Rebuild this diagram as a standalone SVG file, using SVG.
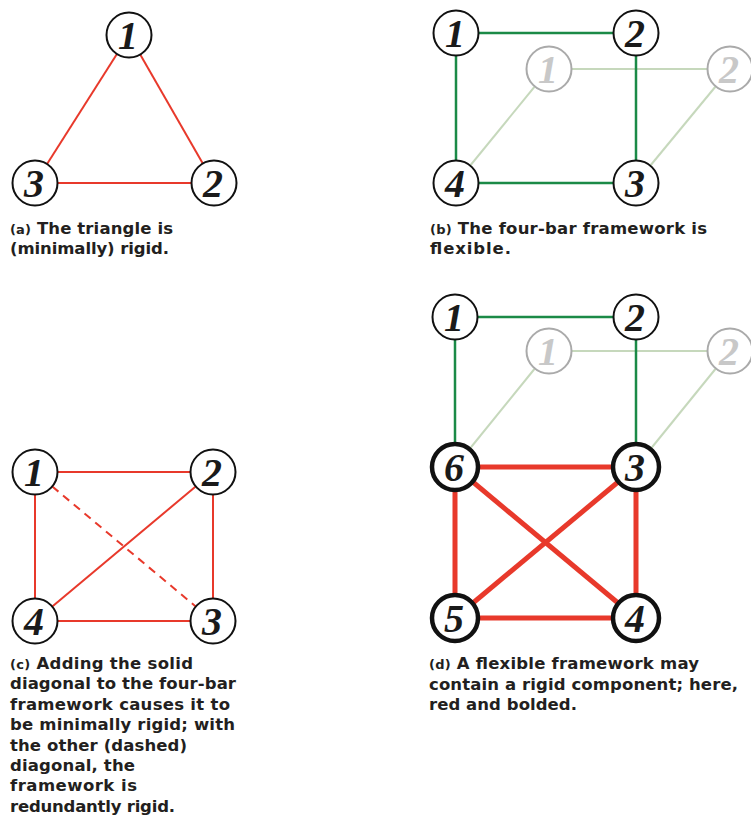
<svg xmlns="http://www.w3.org/2000/svg" width="751" height="820" viewBox="0 0 751 820">
<style>
.bg{fill:#ffffff}
.node circle{fill:#ffffff;stroke:#111111;stroke-width:2}
.node.bold circle{stroke-width:4.5}
.node.ghost circle{stroke:#aaaaaa}
.node text{font-family:"Liberation Serif","Times New Roman",serif;font-weight:bold;font-style:italic;font-size:40px;text-anchor:middle;fill:#1a1a1a}
.node.ghost text{fill:#c8c8c8}
.red{stroke:#e8392b;stroke-width:2;fill:none}
.redb{stroke:#e8392b;stroke-width:5;fill:none}
.dash{stroke:#e8392b;stroke-width:2;fill:none;stroke-dasharray:8 6}
.green{stroke:#1b8a47;stroke-width:2.5;fill:none}
.lgreen{stroke:#c6d8bc;stroke-width:2;fill:none}
.cap{font-family:"DejaVu Sans","Verdana",sans-serif;font-weight:bold;font-size:16.5px;fill:#231f20}
.lab{font-size:13px}
</style>
<rect class="bg" x="0" y="0" width="751" height="820"/>

<g id="connectors">
  <!-- (a) -->
  <line class="red" x1="129" y1="35" x2="214" y2="183"/>
  <line class="red" x1="129" y1="35" x2="35" y2="183"/>
  <line class="red" x1="35" y1="183" x2="214" y2="183"/>
  <!-- (b) -->
  <line class="lgreen" x1="549" y1="69" x2="730" y2="69"/>
  <line class="lgreen" x1="549" y1="69" x2="456" y2="183"/>
  <line class="lgreen" x1="730" y1="69" x2="636" y2="183"/>
  <line class="green" x1="456" y1="33" x2="636" y2="33"/>
  <line class="green" x1="456" y1="33" x2="456" y2="183"/>
  <line class="green" x1="636" y1="33" x2="636" y2="183"/>
  <line class="green" x1="456" y1="183" x2="636" y2="183"/>
  <!-- (c) -->
  <line class="red" x1="35" y1="472" x2="213" y2="472"/>
  <line class="red" x1="35" y1="472" x2="35" y2="621"/>
  <line class="red" x1="213" y1="472" x2="213" y2="621"/>
  <line class="red" x1="35" y1="621" x2="213" y2="621"/>
  <line class="red" x1="213" y1="472" x2="35" y2="621"/>
  <line class="dash" x1="52.3" y1="486.5" x2="195.7" y2="606.5"/>
  <!-- (d) -->
  <line class="lgreen" x1="549" y1="351" x2="730" y2="351"/>
  <line class="lgreen" x1="549" y1="351" x2="455" y2="467"/>
  <line class="lgreen" x1="730" y1="351" x2="636" y2="467"/>
  <line class="green" x1="455" y1="317" x2="636" y2="317"/>
  <line class="green" x1="455" y1="317" x2="455" y2="467"/>
  <line class="green" x1="636" y1="317" x2="636" y2="467"/>
  <line class="redb" x1="455" y1="467" x2="636" y2="467"/>
  <line class="redb" x1="455" y1="467" x2="455" y2="618"/>
  <line class="redb" x1="636" y1="467" x2="636" y2="618"/>
  <line class="redb" x1="455" y1="618" x2="636" y2="618"/>
  <line class="redb" x1="455" y1="467" x2="636" y2="618"/>
  <line class="redb" x1="636" y1="467" x2="455" y2="618"/>
</g>

<!-- (a) nodes -->
<g id="a-n1" class="node"><circle cx="129" cy="35" r="22.5"/><text x="128" y="48.5">1</text></g>
<g id="a-n2" class="node"><circle cx="214" cy="183" r="22.5"/><text x="213" y="196.5">2</text></g>
<g id="a-n3" class="node"><circle cx="35" cy="183" r="22.5"/><text x="34" y="196.5">3</text></g>

<!-- (b) nodes -->
<g id="b-g1" class="node ghost"><circle cx="549" cy="69" r="22.5"/><text x="548" y="82.5">1</text></g>
<g id="b-g2" class="node ghost"><circle cx="730" cy="69" r="22.5"/><text x="729" y="82.5">2</text></g>
<g id="b-n1" class="node"><circle cx="456" cy="33" r="22.5"/><text x="455" y="46.5">1</text></g>
<g id="b-n2" class="node"><circle cx="636" cy="33" r="22.5"/><text x="635" y="46.5">2</text></g>
<g id="b-n3" class="node"><circle cx="636" cy="183" r="22.5"/><text x="635" y="196.5">3</text></g>
<g id="b-n4" class="node"><circle cx="456" cy="183" r="22.5"/><text x="455" y="196.5">4</text></g>

<!-- (c) nodes -->
<g id="c-n1" class="node"><circle cx="35" cy="472" r="22.5"/><text x="34" y="485.5">1</text></g>
<g id="c-n2" class="node"><circle cx="213" cy="472" r="22.5"/><text x="212" y="485.5">2</text></g>
<g id="c-n3" class="node"><circle cx="213" cy="621" r="22.5"/><text x="212" y="634.5">3</text></g>
<g id="c-n4" class="node"><circle cx="35" cy="621" r="22.5"/><text x="34" y="634.5">4</text></g>

<!-- (d) nodes -->
<g id="d-g1" class="node ghost"><circle cx="549" cy="351" r="22.5"/><text x="548" y="364.5">1</text></g>
<g id="d-g2" class="node ghost"><circle cx="730" cy="351" r="22.5"/><text x="729" y="364.5">2</text></g>
<g id="d-n1" class="node"><circle cx="455" cy="317" r="22.5"/><text x="454" y="330.5">1</text></g>
<g id="d-n2" class="node"><circle cx="636" cy="317" r="22.5"/><text x="635" y="330.5">2</text></g>
<g id="d-n6" class="node bold"><circle cx="455" cy="467" r="23"/><text x="454" y="480.5">6</text></g>
<g id="d-n3" class="node bold"><circle cx="636" cy="467" r="23"/><text x="635" y="480.5">3</text></g>
<g id="d-n5" class="node bold"><circle cx="455" cy="618" r="23"/><text x="454" y="631.5">5</text></g>
<g id="d-n4" class="node bold"><circle cx="636" cy="618" r="23"/><text x="635" y="631.5">4</text></g>

<!-- captions -->
<g id="cap-a" class="cap">
  <text x="10" y="234" textLength="163" lengthAdjust="spacing"><tspan class="lab">(a)</tspan> The triangle is</text>
  <text x="10" y="254" textLength="159" lengthAdjust="spacing">(minimally) rigid.</text>
</g>
<g id="cap-b" class="cap">
  <text x="430" y="234" textLength="277" lengthAdjust="spacing"><tspan class="lab">(b)</tspan> The four-bar framework is</text>
  <text x="430" y="254" textLength="81" lengthAdjust="spacing">flexible.</text>
</g>
<g id="cap-c" class="cap">
  <text x="10" y="669" textLength="183" lengthAdjust="spacing"><tspan class="lab">(c)</tspan> Adding the solid</text>
  <text x="10" y="689.4" textLength="226" lengthAdjust="spacing">diagonal to the four-bar</text>
  <text x="10" y="709.8" textLength="220" lengthAdjust="spacing">framework causes it to</text>
  <text x="10" y="730.2" textLength="225" lengthAdjust="spacing">be minimally rigid; with</text>
  <text x="10" y="750.6" textLength="177" lengthAdjust="spacing">the other (dashed)</text>
  <text x="10" y="771" textLength="125" lengthAdjust="spacing">diagonal, the</text>
  <text x="10" y="791.4" textLength="127" lengthAdjust="spacing">framework is</text>
  <text x="10" y="811.8" textLength="165" lengthAdjust="spacing">redundantly rigid.</text>
</g>
<g id="cap-d" class="cap">
  <text x="429" y="669" textLength="270" lengthAdjust="spacing"><tspan class="lab">(d)</tspan> A flexible framework may</text>
  <text x="429" y="689.5" textLength="309" lengthAdjust="spacing">contain a rigid component; here,</text>
  <text x="429" y="710" textLength="148" lengthAdjust="spacing">red and bolded.</text>
</g>
</svg>
